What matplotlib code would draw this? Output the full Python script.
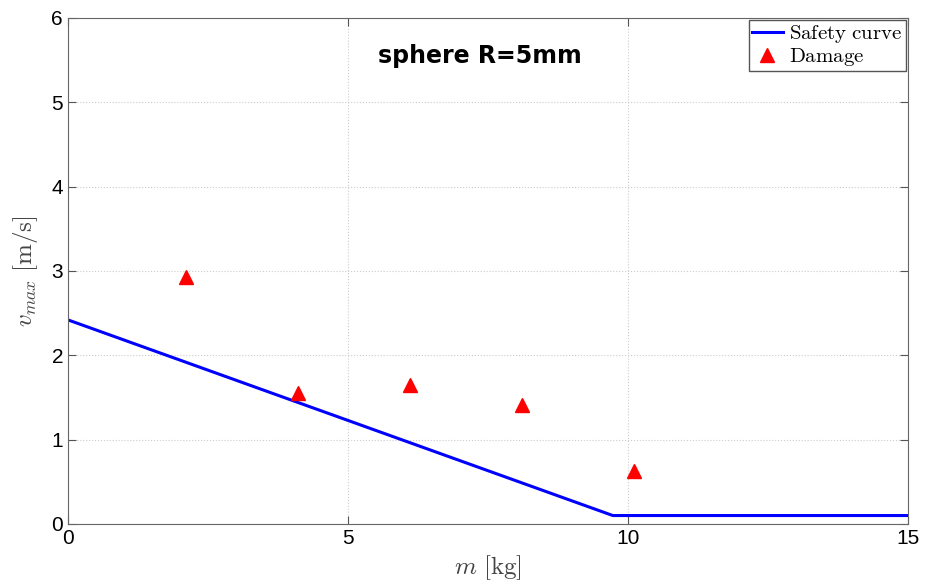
import matplotlib
matplotlib.use('Agg')
import matplotlib.pyplot as plt

plt.rcParams['mathtext.fontset'] = 'cm'
plt.rcParams['font.family'] = 'Liberation Sans'

# safety curve
curve_m = [0, 9.73, 15]
curve_v = [2.42, 0.1, 0.1]

# damage points
damage_m = [2.1, 4.1, 6.1, 8.1, 10.1]
damage_v = [2.93, 1.55, 1.65, 1.41, 0.63]

fig = plt.figure(figsize=(9.3, 5.82), dpi=100)
ax = fig.add_axes([0.0731, 0.0997, 0.9032, 0.8694])

ax.plot(curve_m, curve_v, color='#0000ff', lw=2.2, label=r'$\mathrm{Safety\ curve}$')
ax.plot(damage_m, damage_v, '^', color='red', ms=10, ls='none', label=r'$\mathrm{Damage}$')

ax.set_xlim(0, 15)
ax.set_ylim(0, 6)
ax.set_xticks([0, 5, 10, 15])
ax.set_yticks(range(7))
ax.tick_params(direction='in', top=True, right=True, labelsize=15, length=6, color='#555555')
ax.grid(True, ls=':', color='#cccccc', lw=0.8)
for s in ax.spines.values():
    s.set_color('#666666')

ax.set_xlabel(r'$m\ [\mathrm{kg}]$', fontsize=18, color='#444444', labelpad=4)
ax.set_ylabel(r'$v_{max}\ [\mathrm{m/s}]$', fontsize=18, color='#444444', labelpad=8)

ax.text(0.49, 0.925, 'sphere R=5mm', transform=ax.transAxes, ha='center', va='center',
        fontsize=17, fontweight='bold', family='DejaVu Sans')

leg = ax.legend(loc='upper right', fontsize=15, borderaxespad=0.1, handlelength=1.5,
                handletextpad=0.3, labelspacing=0.05, borderpad=0.15, fancybox=False,
                framealpha=1, numpoints=1)
leg.get_frame().set_edgecolor('#555555')

fig.savefig('out.png', dpi=100)
